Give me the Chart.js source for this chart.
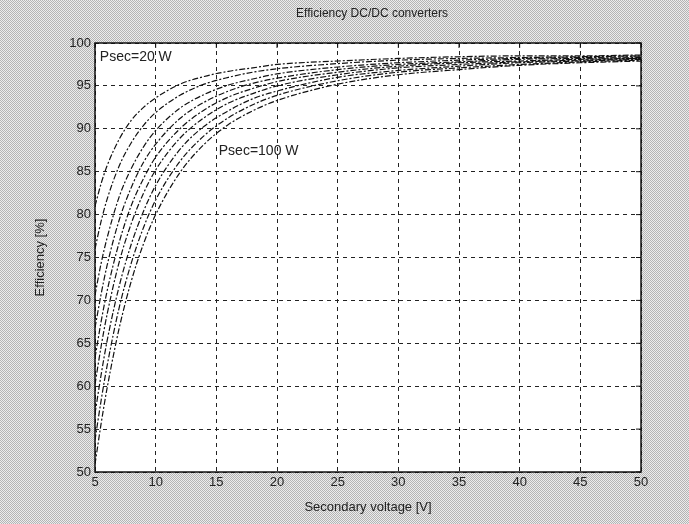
<!DOCTYPE html>
<html>
<head>
<meta charset="utf-8">
<script src="https://cdn.jsdelivr.net/npm/chart.js@4"></script>
<style>
  html, body { margin: 0; padding: 0; background: #d4d4d4; }
  #wrap { width: 689px; height: 524px; }
</style>
</head>
<body>
<div id="wrap"><canvas id="effChart" width="689" height="524"></canvas></div>
<script>
// secondary voltage [V]
const voltage = [5, 5.5, 6, 7, 8, 9, 10, 12, 14, 16, 18, 20, 25, 30, 35, 40, 45, 50];

// efficiency [%] per secondary power
const psec20  = [81.0, 83.6, 85.7, 88.8, 91.0, 92.5, 93.6, 95.2, 96.1, 96.7, 97.1, 97.5, 97.9, 98.2, 98.4, 98.5, 98.5, 98.6];
const psec30  = [76.0, 79.2, 81.8, 85.7, 88.4, 90.4, 91.9, 93.9, 95.2, 96.0, 96.6, 97.0, 97.6, 98.0, 98.2, 98.3, 98.4, 98.5];
const psec40  = [70.6, 74.3, 77.3, 82.1, 85.4, 87.9, 89.8, 92.4, 94.0, 95.1, 95.8, 96.4, 97.2, 97.7, 98.0, 98.2, 98.3, 98.4];
const psec50  = [66.8, 70.7, 74.1, 79.4, 83.2, 86.1, 88.2, 91.2, 93.1, 94.4, 95.3, 95.9, 96.9, 97.5, 97.8, 98.1, 98.2, 98.3];
const psec60  = [63.3, 67.5, 71.1, 76.8, 81.1, 84.2, 86.7, 90.0, 92.2, 93.7, 94.7, 95.5, 96.6, 97.3, 97.7, 97.9, 98.1, 98.2];
const psec70  = [60.2, 64.6, 68.4, 74.5, 79.0, 82.5, 85.2, 88.9, 91.3, 93.0, 94.1, 95.0, 96.3, 97.1, 97.5, 97.8, 98.0, 98.2];
const psec80  = [56.8, 61.3, 65.3, 71.7, 76.6, 80.4, 83.4, 87.6, 90.3, 92.1, 93.5, 94.4, 96.0, 96.8, 97.3, 97.7, 97.9, 98.1];
const psec90  = [53.7, 58.3, 62.4, 69.2, 74.4, 78.5, 81.7, 86.2, 89.2, 91.3, 92.8, 93.9, 95.6, 96.6, 97.1, 97.5, 97.8, 98.0];
const psec100 = [50.9, 55.6, 59.8, 66.8, 72.3, 76.6, 80.0, 84.9, 88.2, 90.5, 92.1, 93.3, 95.2, 96.3, 96.9, 97.4, 97.7, 97.9];

const seriesNames = ["Psec=20 W", "Psec=30 W", "Psec=40 W", "Psec=50 W", "Psec=60 W",
                     "Psec=70 W", "Psec=80 W", "Psec=90 W", "Psec=100 W"];
const seriesValues = [psec20, psec30, psec40, psec50, psec60, psec70, psec80, psec90, psec100];

const xTicks = [5, 10, 15, 20, 25, 30, 35, 40, 45, 50];
const yTicks = [50, 55, 60, 65, 70, 75, 80, 85, 90, 95, 100];

const FONT = "'Liberation Sans', Arial, sans-serif";

// dithered grey like the scanned figure background
function ditherPattern(ctx) {
  const p = document.createElement("canvas");
  p.width = 2; p.height = 2;
  const pc = p.getContext("2d");
  pc.fillStyle = "#ececec";
  pc.fillRect(0, 0, 2, 2);
  pc.fillStyle = "#b4b4b4";
  pc.fillRect(0, 0, 1, 1);
  pc.fillRect(1, 1, 1, 1);
  return ctx.createPattern(p, "repeat");
}

const figurePlugin = {
  id: "figure",
  beforeDraw(chart) {
    const { ctx, chartArea: a } = chart;
    ctx.save();
    ctx.fillStyle = ditherPattern(ctx);
    ctx.fillRect(0, 0, chart.width, chart.height);
    ctx.fillStyle = "#ffffff";
    ctx.fillRect(a.left, a.top, a.right - a.left, a.bottom - a.top);
    ctx.restore();
  },
  afterDraw(chart) {
    const { ctx, chartArea: a, scales } = chart;
    ctx.save();
    // axes box
    ctx.strokeStyle = "#111";
    ctx.lineWidth = 1.5;
    ctx.strokeRect(a.left, a.top, a.right - a.left, a.bottom - a.top);

    // small inward ticks on top and right edges, matlab style
    ctx.lineWidth = 1;
    xTicks.forEach((v) => {
      const px = scales.x.getPixelForValue(v);
      ctx.beginPath(); ctx.moveTo(px, a.top); ctx.lineTo(px, a.top + 5); ctx.stroke();
    });
    yTicks.forEach((v) => {
      const py = scales.y.getPixelForValue(v);
      ctx.beginPath(); ctx.moveTo(a.right, py); ctx.lineTo(a.right - 5, py); ctx.stroke();
    });

    ctx.fillStyle = "#222";
    ctx.textBaseline = "middle";
    // title and axis labels
    ctx.font = "12px " + FONT;
    ctx.textAlign = "center";
    ctx.fillText("Efficiency DC/DC converters", (a.left + a.right) / 2 + 4, 14);
    ctx.font = "13px " + FONT;
    ctx.fillText("Secondary voltage [V]", (a.left + a.right) / 2, 507);
    ctx.save();
    ctx.translate(40, (a.top + a.bottom) / 2);
    ctx.rotate(-Math.PI / 2);
    ctx.fillText("Efficiency [%]", 0, 0);
    ctx.restore();

    // curve annotations
    ctx.font = "14px " + FONT;
    ctx.textAlign = "left";
    ctx.fillText("Psec=20 W", scales.x.getPixelForValue(5.4), scales.y.getPixelForValue(98.3));
    ctx.fillText("Psec=100 W", scales.x.getPixelForValue(15.2), scales.y.getPixelForValue(87.4));
    ctx.restore();
  }
};

const datasets = seriesValues.map((vals, i) => ({
  label: seriesNames[i],
  data: voltage.map((v, j) => ({ x: v, y: vals[j] })),
  borderColor: "#111",
  borderWidth: 1.2,
  borderDash: [6, 2, 2, 2],
  pointRadius: 0,
  fill: false,
  cubicInterpolationMode: "monotone"
}));

new Chart(document.getElementById("effChart").getContext("2d"), {
  type: "line",
  data: { datasets },
  options: {
    responsive: false,
    animation: false,
    layout: { padding: { top: 43, right: 48, bottom: 0, left: 0 } },
    plugins: {
      legend: { display: false },
      tooltip: { enabled: false }
    },
    scales: {
      x: {
        type: "linear",
        min: 5,
        max: 50,
        afterFit: (s) => { s.height = 52; },
        afterBuildTicks: (s) => { s.ticks = xTicks.map((v) => ({ value: v })); },
        ticks: {
          color: "#222",
          font: { family: FONT, size: 13 },
          padding: 3,
          maxRotation: 0
        },
        grid: { color: "#222", lineWidth: 1, drawTicks: false },
        border: { display: false, dash: [4, 4] }
      },
      y: {
        min: 50,
        max: 100,
        afterFit: (s) => { s.width = 95; },
        afterBuildTicks: (s) => { s.ticks = yTicks.map((v) => ({ value: v })); },
        ticks: {
          color: "#222",
          font: { family: FONT, size: 13 },
          padding: 4
        },
        grid: { color: "#222", lineWidth: 1, drawTicks: false },
        border: { display: false, dash: [4, 4] }
      }
    }
  },
  plugins: [figurePlugin]
});
</script>
</body>
</html>
